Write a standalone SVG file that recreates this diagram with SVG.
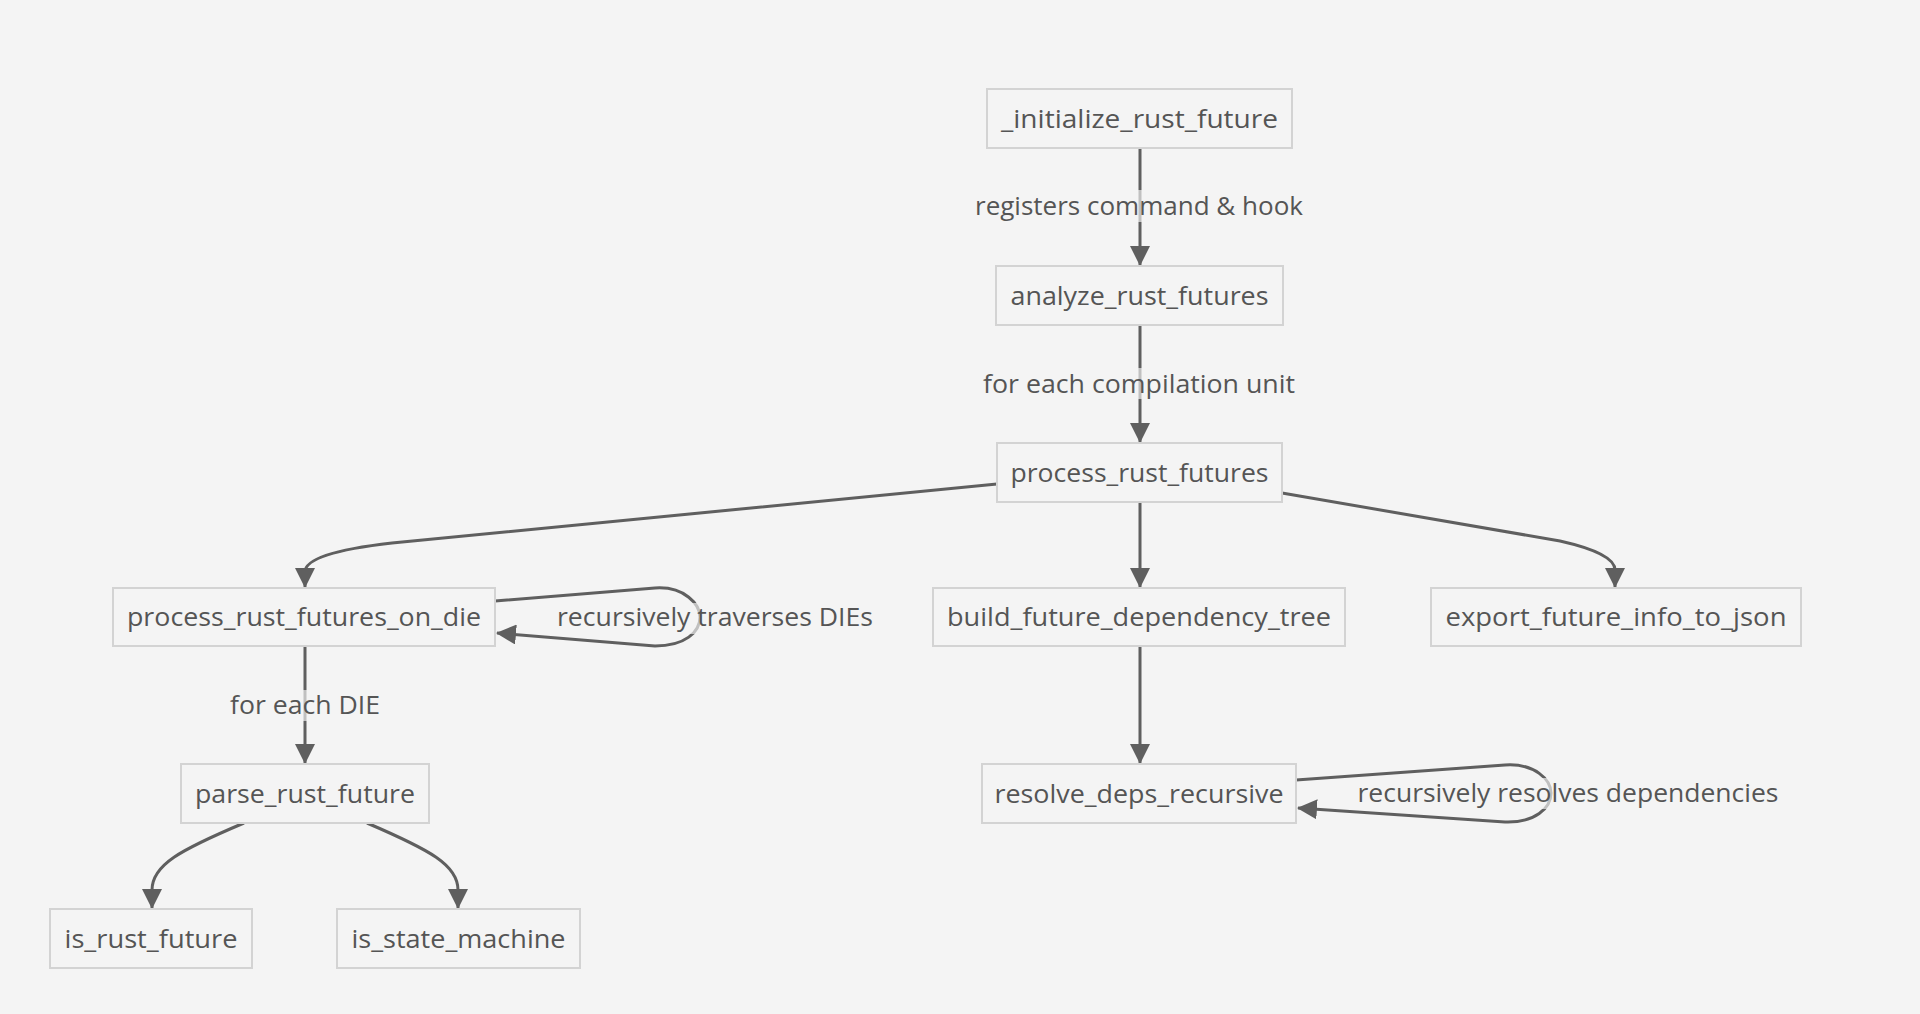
<svg xmlns="http://www.w3.org/2000/svg" width="1920" height="1014" viewBox="0 0 1920 1014">
<style>
.bg{fill:#f4f4f4}
.node rect{fill:#f4f4f4;stroke:#d3d3d3;stroke-width:2}
.node text,.lbl text{font-family:"Open Sans","Liberation Sans",sans-serif;font-size:25px;fill:#555555;text-anchor:middle}
.edges path{fill:none;stroke:#5f5f5f;stroke-width:3}
.lbl rect{fill:#f4f4f4;opacity:0.65}
</style>
<defs>
<marker id="arr" viewBox="0 0 10 10" refX="9.5" refY="5" markerUnits="userSpaceOnUse" markerWidth="20" markerHeight="20" orient="auto">
<path d="M0,0 L10,5 L0,10 z" fill="#5f5f5f"/>
</marker>
</defs>
<rect class="bg" x="0" y="0" width="1920" height="1014"/>
<g id="connectors" class="edges">
<path d="M1140,149 L1140,265" marker-end="url(#arr)"/>
<path d="M1140,326 L1140,442" marker-end="url(#arr)"/>
<path d="M997,484 L392,543 C330,550 305,560 305,572 L305,587" marker-end="url(#arr)"/>
<path d="M1140,502 L1140,587" marker-end="url(#arr)"/>
<path d="M1282,493 L1560,541 C1600,550 1615,560 1615,570 L1615,587" marker-end="url(#arr)"/>
<path d="M495,601 L655,588 C685,586 700,605 700,617 C700,632 685,646 655,646 L497,633" marker-end="url(#arr)"/>
<path d="M305,647 L305,763" marker-end="url(#arr)"/>
<path d="M1140,647 L1140,763" marker-end="url(#arr)"/>
<path d="M1296,780 L1505,765 C1535,763 1551,780 1551,793 C1551,808 1535,823 1505,822 L1298,808" marker-end="url(#arr)"/>
<path d="M244,823 C180,850 152,865 152,890 L152,908" marker-end="url(#arr)"/>
<path d="M367,823 C430,850 458,865 458,890 L458,908" marker-end="url(#arr)"/>
</g>
<g id="edge-labels" class="lbl">
<g id="lbl-registers"><rect x="973" y="190" width="332" height="32"/><text x="1139" y="215" textLength="328" lengthAdjust="spacingAndGlyphs">registers command &amp; hook</text></g>
<g id="lbl-foreach-cu"><rect x="981" y="368" width="316" height="31"/><text x="1139" y="393" textLength="312" lengthAdjust="spacingAndGlyphs">for each compilation unit</text></g>
<g id="lbl-traverses"><rect x="555" y="603" width="320" height="31"/><text x="715" y="626" textLength="316" lengthAdjust="spacingAndGlyphs">recursively traverses DIEs</text></g>
<g id="lbl-foreach-die"><rect x="228" y="690" width="154" height="31"/><text x="305" y="714" textLength="150" lengthAdjust="spacingAndGlyphs">for each DIE</text></g>
<g id="lbl-resolves"><rect x="1356" y="778" width="425" height="31"/><text x="1568" y="802" textLength="421" lengthAdjust="spacingAndGlyphs">recursively resolves dependencies</text></g>
</g>
<g id="n-init" class="node"><rect x="987" y="89" width="305" height="59"/><text x="1139.5" y="127.5" textLength="277" lengthAdjust="spacingAndGlyphs">_initialize_rust_future</text></g>
<g id="n-analyze" class="node"><rect x="996" y="266" width="287" height="59"/><text x="1139.5" y="304.5" textLength="258" lengthAdjust="spacingAndGlyphs">analyze_rust_futures</text></g>
<g id="n-process" class="node"><rect x="997" y="443" width="285" height="59"/><text x="1139.5" y="481.5" textLength="258" lengthAdjust="spacingAndGlyphs">process_rust_futures</text></g>
<g id="n-ondie" class="node"><rect x="113" y="588" width="382" height="58"/><text x="304" y="626" textLength="354" lengthAdjust="spacingAndGlyphs">process_rust_futures_on_die</text></g>
<g id="n-build" class="node"><rect x="933" y="588" width="412" height="58"/><text x="1139" y="626" textLength="384" lengthAdjust="spacingAndGlyphs">build_future_dependency_tree</text></g>
<g id="n-export" class="node"><rect x="1431" y="588" width="370" height="58"/><text x="1616" y="626" textLength="341" lengthAdjust="spacingAndGlyphs">export_future_info_to_json</text></g>
<g id="n-parse" class="node"><rect x="181" y="764" width="248" height="59"/><text x="305" y="802.5" textLength="220" lengthAdjust="spacingAndGlyphs">parse_rust_future</text></g>
<g id="n-resolve" class="node"><rect x="982" y="764" width="314" height="59"/><text x="1139" y="802.5" textLength="289" lengthAdjust="spacingAndGlyphs">resolve_deps_recursive</text></g>
<g id="n-isrust" class="node"><rect x="50" y="909" width="202" height="59"/><text x="151" y="947.5" textLength="173" lengthAdjust="spacingAndGlyphs">is_rust_future</text></g>
<g id="n-issm" class="node"><rect x="337" y="909" width="243" height="59"/><text x="458.5" y="947.5" textLength="214" lengthAdjust="spacingAndGlyphs">is_state_machine</text></g>
</svg>
